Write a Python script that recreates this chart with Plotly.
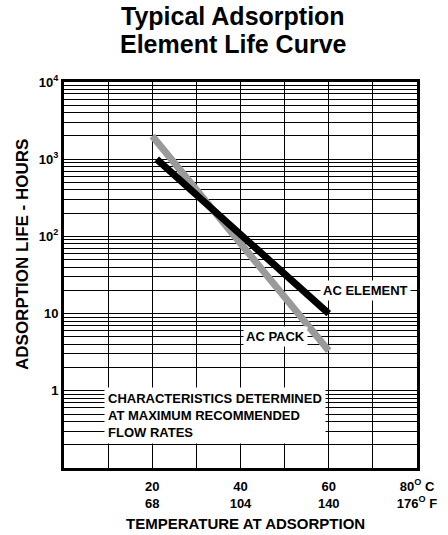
import plotly.graph_objects as go

# ---- data ----
temps_c = [21, 60]
element_life = [1000, 10]
pack_temps_c = [20, 60]
pack_life = [2000, 3.3]

x_grid = [0, 10, 20, 30, 40, 50, 60, 70, 80]
x_ticktext = ["", "", "20<br>68", "", "40<br>104", "", "60<br>140", "",
              "80<sup>O</sup> C<br>176<sup>O</sup> F"]

decades = [0.1, 1, 10, 100, 1000]
decade_labels = {1: "1", 10: "10", 100: "10<sup>2</sup>", 1000: "10<sup>3</sup>",
                 10000: "10<sup>4</sup>"}

y_vals = []
y_text = []
for d in decades:
    for m in range(1, 10):
        v = round(m * d, 6)
        y_vals.append(v)
        y_text.append(decade_labels.get(v, "") if m == 1 else "")
y_vals.append(10000)
y_text.append(decade_labels[10000])

FONT = "Liberation Sans, Arial, Helvetica, sans-serif"
BOLD = dict(family=FONT, color="black", weight="bold")

fig = go.Figure()
fig.add_trace(go.Scatter(x=pack_temps_c, y=pack_life, mode="lines",
                         line=dict(color="#9a9a9a", width=7), showlegend=False))
fig.add_trace(go.Scatter(x=temps_c, y=element_life, mode="lines",
                         line=dict(color="#000000", width=7), showlegend=False))

fig.add_annotation(x=68.4, y=1.301, text="AC ELEMENT", showarrow=False,
                   font=dict(BOLD, size=13), bgcolor="white", borderpad=2)
fig.add_annotation(x=48, y=0.699, text="AC PACK", showarrow=False,
                   font=dict(BOLD, size=13), bgcolor="white", borderpad=2)
fig.add_annotation(x=9.1, y=-0.317, xanchor="left", align="left",
                   text="CHARACTERISTICS DETERMINED<br>AT MAXIMUM RECOMMENDED<br>FLOW RATES",
                   showarrow=False, font=dict(BOLD, size=13),
                   bgcolor="white", borderpad=3)

# title lines
fig.add_annotation(xref="paper", yref="paper", x=0.479, y=1.170, text="Typical Adsorption",
                   showarrow=False, font=dict(BOLD, size=25), yanchor="middle")
fig.add_annotation(xref="paper", yref="paper", x=0.479, y=1.099, text="Element Life Curve",
                   showarrow=False, font=dict(BOLD, size=25), yanchor="middle")
# axis titles
fig.add_annotation(xref="paper", yref="paper", x=0.513, y=-0.145,
                   text="TEMPERATURE AT ADSORPTION", showarrow=False,
                   font=dict(BOLD, size=15), yanchor="middle")
fig.add_annotation(xref="paper", yref="paper", x=(22 - 64) / 353, y=(468 - 255) / 386,
                   text="ADSORPTION LIFE - HOURS", showarrow=False, textangle=-90,
                   font=dict(BOLD, size=17), xanchor="center", yanchor="middle")

fig.update_layout(
    width=448, height=535,
    margin=dict(l=64, r=31, t=82, b=67),
    paper_bgcolor="white", plot_bgcolor="white",
    font=dict(family=FONT, color="black"),
)
fig.update_xaxes(range=[0, 80], tickmode="array", tickvals=x_grid, ticktext=x_ticktext,
                 showgrid=True, gridcolor="black", gridwidth=1,
                 showline=True, linecolor="black", linewidth=3, mirror=True,
                 ticks="", zeroline=False, ticklabelstandoff=4, automargin=False,
                 tickfont=dict(BOLD, size=13))
fig.update_yaxes(type="log", range=[-1, 4], tickmode="array", tickvals=y_vals, ticktext=y_text,
                 showgrid=True, gridcolor="black", gridwidth=1,
                 showline=True, linecolor="black", linewidth=3, mirror=True,
                 ticks="", zeroline=False, automargin=False,
                 tickfont=dict(BOLD, size=13))

fig.write_html("out.html", config={"displayModeBar": False},
               post_script="document.body.style.margin='0';document.body.style.padding='0';")
